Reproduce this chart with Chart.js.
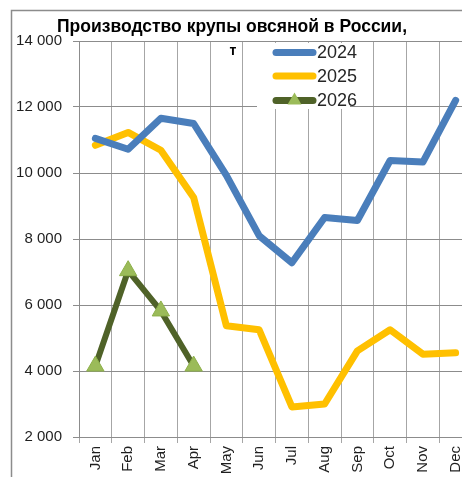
<!DOCTYPE html>
<html>
<head>
<meta charset="utf-8">
<style>
html,body{margin:0;padding:0;background:#fff;overflow:hidden;}
#wrap{position:relative;width:490px;height:477px;}
</style>
<script src="https://cdn.jsdelivr.net/npm/chart.js@4.4.1/dist/chart.umd.min.js"></script>
</head>
<body>
<div id="wrap"><canvas id="c" width="490" height="477"></canvas></div>
<script>
const titleText = "Производство крупы овсяной в России,";
const unitText = "т";
const months = ["Jan","Feb","Mar","Apr","May","Jun","Jul","Aug","Sep","Oct","Nov","Dec"];
const seriesNames = ["2024","2025","2026"];
const values2024 = [11050, 10720, 11660, 11500, 9930, 8100, 7280, 8650, 8560, 10380, 10330, 12200];
const values2025 = [10840, 11230, 10690, 9260, 5370, 5250, 2910, 3000, 4610, 5250, 4510, 4550];
const values2026 = [4150, 7040, 5820, 4150];
const yTicks = [2000, 4000, 6000, 8000, 10000, 12000, 14000];

const colors = ["#4A7EBB", "#FFC000", "#4F6228"];
const markerFill = "#9BBB59";

function fmt(v){ return String(v).replace(/\B(?=(\d{3})+(?!\d))/g, " "); }

const overlay = {
  id: 'overlay',
  beforeDraw(chart){
    const ctx = chart.ctx;
    ctx.save();
    ctx.fillStyle = '#fff';
    ctx.fillRect(0,0,chart.width,chart.height);
    ctx.strokeStyle = '#8c8c8c';
    ctx.lineWidth = 1.5;
    ctx.strokeRect(11.5, 10.5, 1000, 1000);
    ctx.restore();
  },
  afterDraw(chart){
    const ctx = chart.ctx;
    ctx.save();
    // legend box
    ctx.fillStyle = '#fff';
    ctx.fillRect(257, 43, 93, 66);
    const rows = [52.5, 76, 100.5];
    chart.data.datasets.forEach((ds, i) => {
      const y = rows[i];
      ctx.strokeStyle = ds.borderColor;
      ctx.lineWidth = 7;
      ctx.lineCap = 'round';
      ctx.beginPath();
      ctx.moveTo(276, y);
      ctx.lineTo(313, y);
      ctx.stroke();
      if (ds.pointStyle === 'triangle') {
        ctx.fillStyle = markerFill;
        const r = 8;
        ctx.beginPath();
        ctx.moveTo(294.5, y - r);
        ctx.lineTo(294.5 + r*0.87, y + r*0.5);
        ctx.lineTo(294.5 - r*0.87, y + r*0.5);
        ctx.closePath();
        ctx.fill();
      }
      ctx.fillStyle = '#262626';
      ctx.font = '18px "Liberation Sans", Arial, sans-serif';
      ctx.textAlign = 'left';
      ctx.textBaseline = 'middle';
      ctx.fillText(ds.label, 317, y + 1);
    });
    // title
    ctx.fillStyle = '#000';
    ctx.font = 'bold 17.5px "Liberation Sans", Arial, sans-serif';
    ctx.textAlign = 'center';
    ctx.textBaseline = 'middle';
    ctx.fillText(titleText, 232, 27);
    ctx.font = 'bold 14px "Liberation Sans", Arial, sans-serif';
    ctx.fillText(unitText, 233, 51);
    ctx.restore();
  }
};

new Chart(document.getElementById('c'), {
  type: 'line',
  data: {
    labels: months,
    datasets: [
      { label: seriesNames[0], data: values2024, borderColor: colors[0], backgroundColor: colors[0], borderWidth: 7, pointRadius: 0, tension: 0, borderJoinStyle: 'round', borderCapStyle: 'round' },
      { label: seriesNames[1], data: values2025, borderColor: colors[1], backgroundColor: colors[1], borderWidth: 7, pointRadius: 0, tension: 0, borderJoinStyle: 'round', borderCapStyle: 'round' },
      { label: seriesNames[2], data: values2026, borderColor: colors[2], backgroundColor: markerFill, borderWidth: 6, pointStyle: 'triangle', pointRadius: 10, pointBorderWidth: 1, pointBorderColor: '#8DB04A', pointBackgroundColor: markerFill, tension: 0, borderJoinStyle: 'round' }
    ]
  },
  options: {
    responsive: false,
    animation: false,
    layout: { padding: { left: 0, right: 18, top: 41, bottom: 0 } },
    plugins: { legend: { display: false }, title: { display: false }, tooltip: { enabled: false } },
    scales: {
      x: {
        type: 'category',
        offset: true,
        grid: { offset: true, color: '#a6a6a6', lineWidth: 1, drawTicks: true, tickLength: 6 },
        border: { color: '#8c8c8c', width: 1 },
        ticks: { autoSkip: false, minRotation: 90, maxRotation: 90, padding: 3, color: '#1f1f1f', font: { family: '"Liberation Sans", Arial, sans-serif', size: 15 } },
        afterFit(scale){ scale.height = 40; }
      },
      y: {
        min: 2000, max: 14000,
        afterBuildTicks(scale){ scale.ticks = yTicks.map(v => ({ value: v })); },
        grid: { color: '#8c8c8c', lineWidth: 1, tickLength: 6, borderDash: [2,2] },
        border: { color: '#8c8c8c', width: 1, dash: [] },
        ticks: { padding: 11, color: '#1f1f1f', font: { family: '"Liberation Sans", Arial, sans-serif', size: 15 }, callback: v => fmt(v) },
        afterFit(scale){ scale.width = 79; }
      }
    }
  },
  plugins: [overlay]
});
</script>
</body>
</html>
